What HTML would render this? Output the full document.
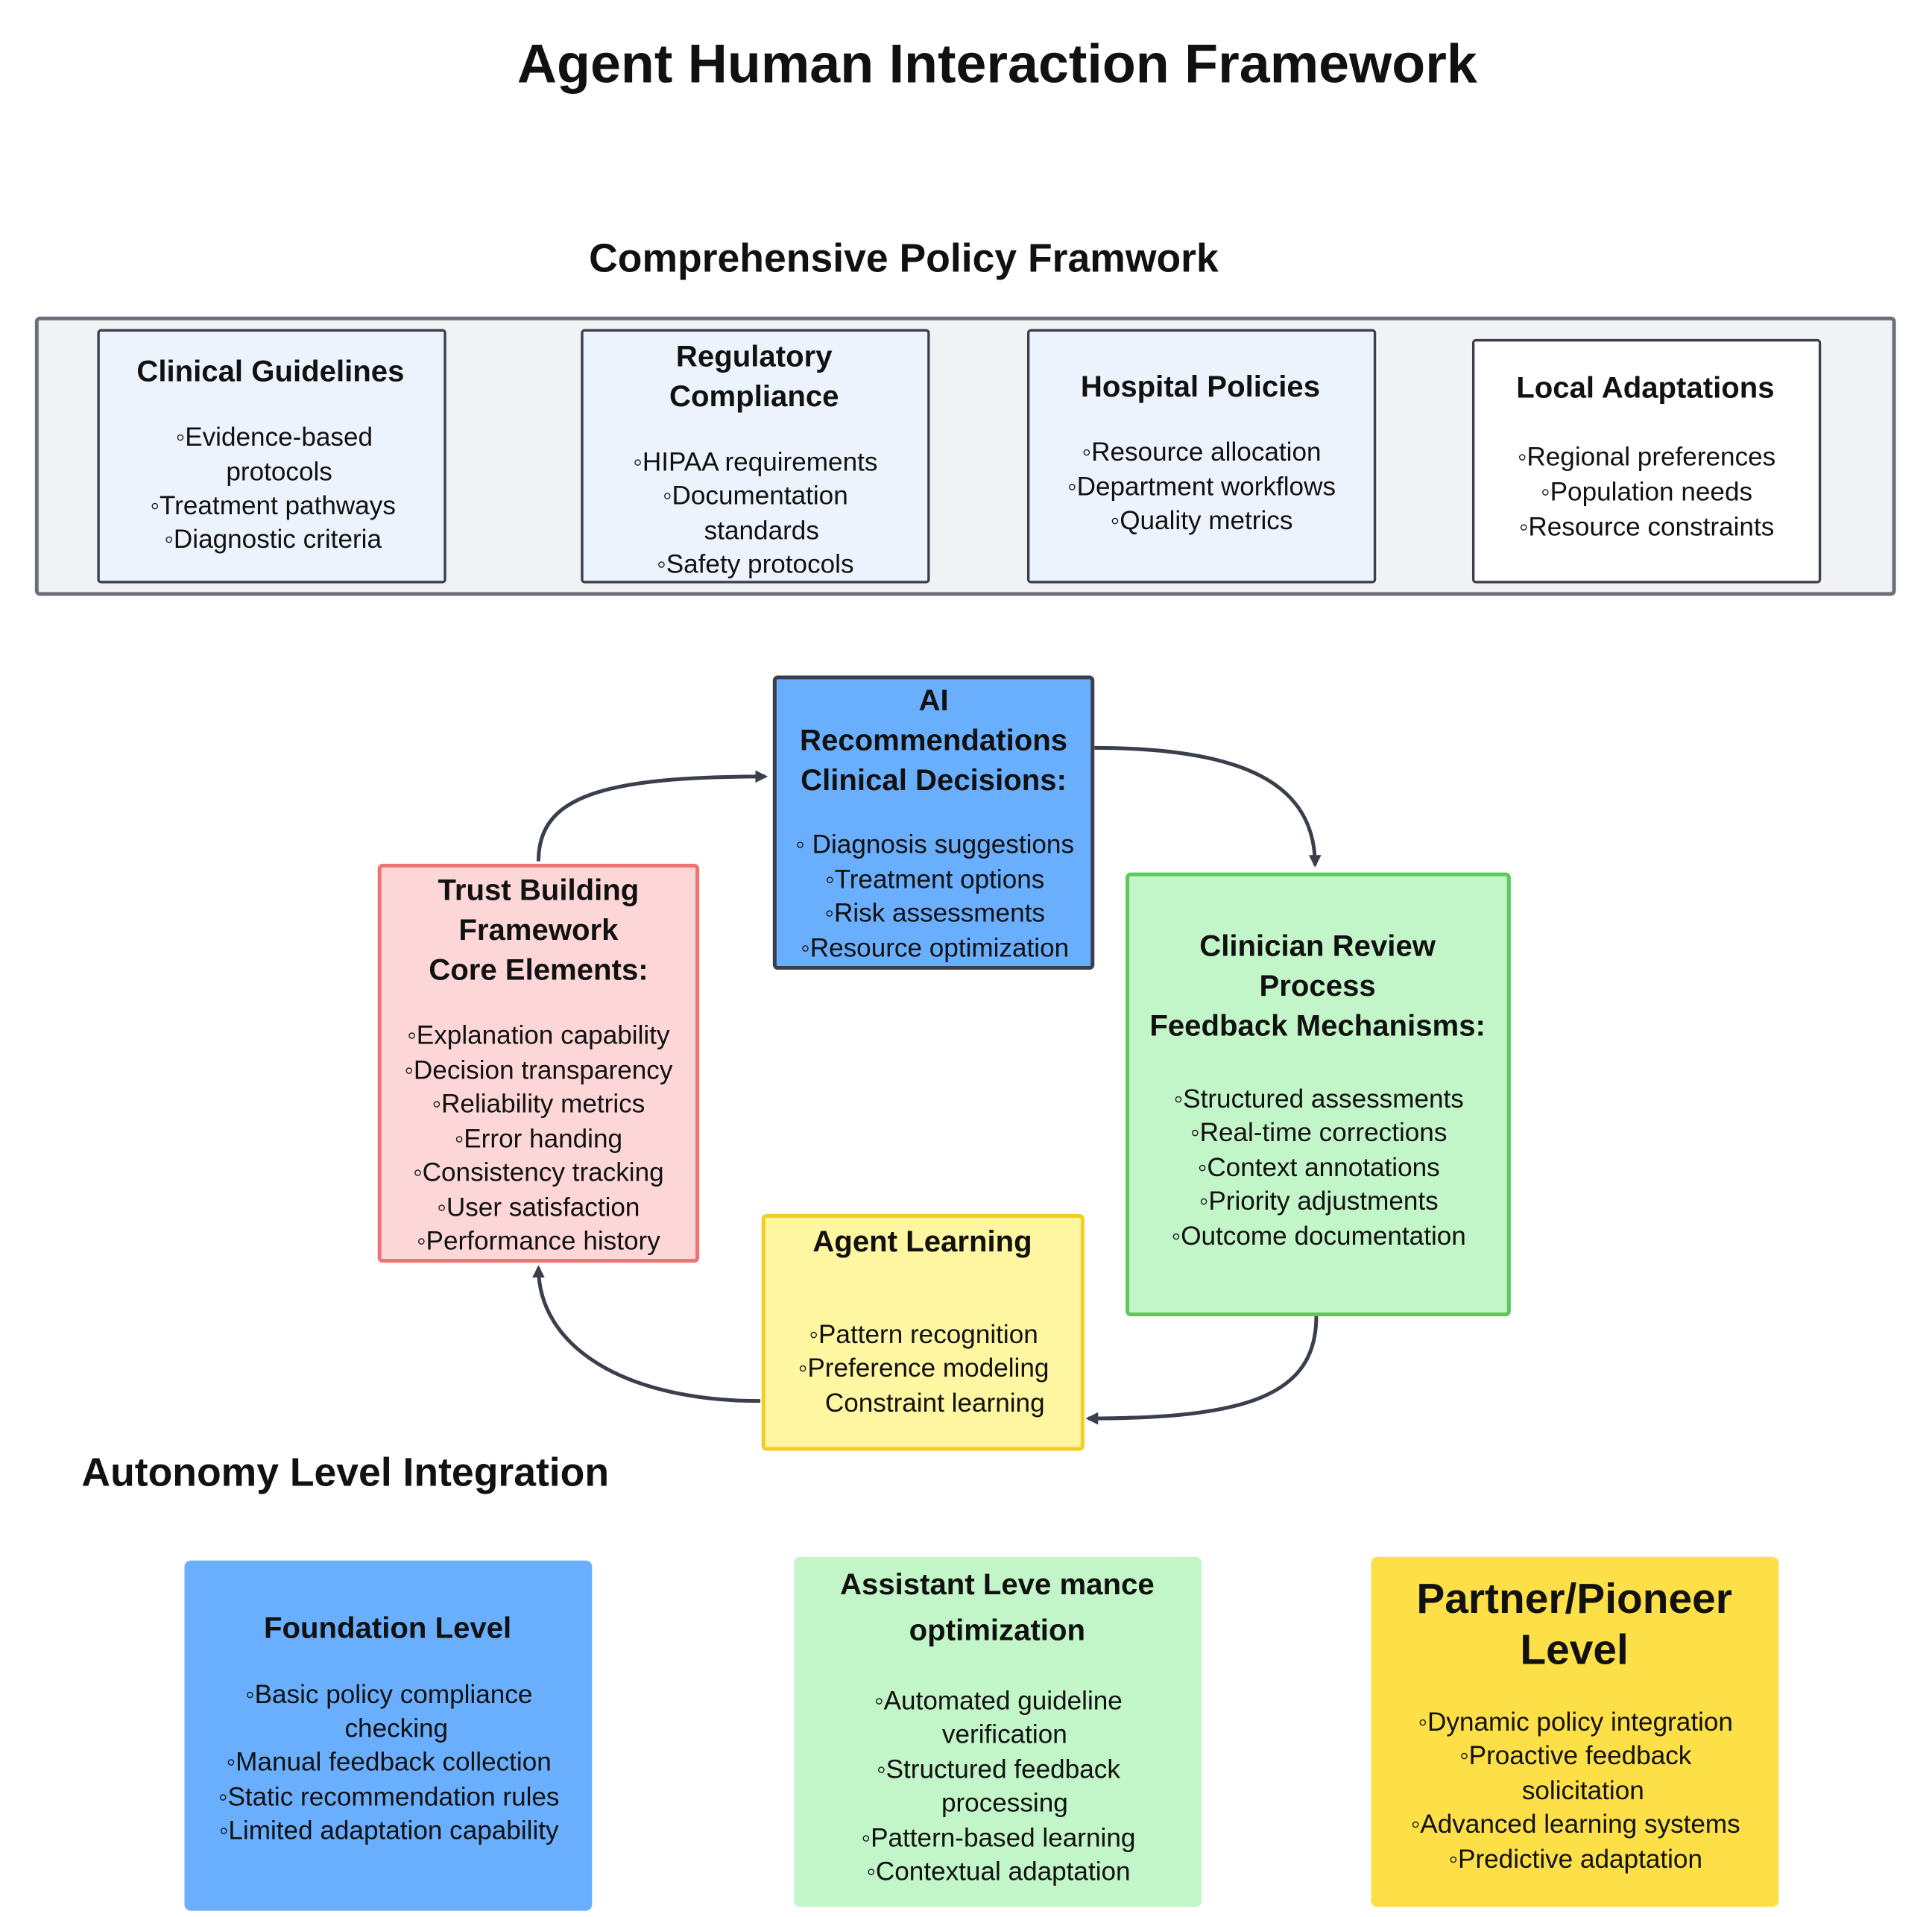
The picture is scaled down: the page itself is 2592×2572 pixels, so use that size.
<!DOCTYPE html>
<html><head><meta charset="utf-8"><style>
html,body{margin:0;padding:0;background:#fff;}
body{width:2592px;height:2571px;overflow:hidden;position:relative;}
#w{position:absolute;left:0;top:0;width:1550px;height:1538px;transform:scale(1.6723);transform-origin:0 0;font-family:"Liberation Sans",sans-serif;color:#111;}
.b{position:absolute;box-sizing:border-box;}
.t{position:absolute;white-space:nowrap;transform:translate(-50%,-50%);font-size:21px;line-height:1;}
.h{font-weight:bold;font-size:24px;}
</style></head><body><div id="w">
<div class="t" style="left:800px;top:52px;font-size:44px;font-weight:bold">Agent Human Interaction Framework</div>
<div class="t" style="left:725px;top:207px;font-size:32px;font-weight:bold">Comprehensive Policy Framwork</div>
<div class="b" style="left:28px;top:254px;width:1493px;height:224px;background:#f1f2f4;border:3px solid #6b6f7a;border-radius:4px"></div>
<div class="b" style="left:78px;top:264px;width:280px;height:204px;background:#edf3fd;border:2.5px solid #3a3f4b;border-radius:3px"></div>
<div class="b" style="left:466px;top:264px;width:280px;height:204px;background:#edf3fd;border:2.5px solid #3a3f4b;border-radius:3px"></div>
<div class="b" style="left:824px;top:264px;width:280px;height:204px;background:#edf3fd;border:2.5px solid #3a3f4b;border-radius:3px"></div>
<div class="b" style="left:1181px;top:272px;width:280px;height:196px;background:#fff;border:2.5px solid #3a3f4b;border-radius:3px"></div>
<div class="t h" style="left:217px;top:299px">Clinical Guidelines</div>
<div class="t" style="left:220px;top:351px">◦Evidence-based</div>
<div class="t" style="left:224px;top:379px">protocols</div>
<div class="t" style="left:219px;top:406px">◦Treatment pathways</div>
<div class="t" style="left:219px;top:433px">◦Diagnostic criteria</div>
<div class="t h" style="left:605px;top:287px">Regulatory</div>
<div class="t h" style="left:605px;top:319px">Compliance</div>
<div class="t" style="left:606px;top:371px">◦HIPAA requirements</div>
<div class="t" style="left:606px;top:398px">◦Documentation</div>
<div class="t" style="left:611px;top:426px">standards</div>
<div class="t" style="left:606px;top:453px">◦Safety protocols</div>
<div class="t h" style="left:963px;top:311px">Hospital Policies</div>
<div class="t" style="left:964px;top:363px">◦Resource allocation</div>
<div class="t" style="left:964px;top:391px">◦Department workflows</div>
<div class="t" style="left:964px;top:418px">◦Quality metrics</div>
<div class="t h" style="left:1320px;top:312px">Local Adaptations</div>
<div class="t" style="left:1321px;top:367px">◦Regional preferences</div>
<div class="t" style="left:1321px;top:395px">◦Population needs</div>
<div class="t" style="left:1321px;top:423px">◦Resource constraints</div>

<svg class="b" style="left:0;top:0" width="1550" height="1538">
<defs><marker id="a" markerWidth="10" markerHeight="10" refX="8" refY="5" orient="auto" markerUnits="userSpaceOnUse"><path d="M0,0 L10,5 L0,10 z" fill="#3a3f4b"/></marker></defs>
<g fill="none" stroke="#3a3f4b" stroke-width="3">
<path d="M432,691 C432,640 480,623 614,623" marker-end="url(#a)"/>
<path d="M878,600 C1000,600 1055,630 1055,694" marker-end="url(#a)"/>
<path d="M1056,1056 C1056,1120 1000,1138 873,1138" marker-end="url(#a)"/>
<path d="M610,1124 C500,1124 432,1080 432,1017" marker-end="url(#a)"/>
</g></svg>

<div class="b" style="left:620px;top:542px;width:258px;height:236px;background:#6aaefe;border:3px solid #3a3f4b;border-radius:4px"></div>
<div class="t h" style="left:749px;top:563px">AI</div>
<div class="t h" style="left:749px;top:595px">Recommendations</div>
<div class="t h" style="left:749px;top:627px">Clinical Decisions:</div>
<div class="t" style="left:750px;top:678px">◦ Diagnosis suggestions</div>
<div class="t" style="left:750px;top:706px">◦Treatment options</div>
<div class="t" style="left:750px;top:733px">◦Risk assessments</div>
<div class="t" style="left:750px;top:761px">◦Resource optimization</div>

<div class="b" style="left:303px;top:693px;width:258px;height:320px;background:#fdd7d8;border:3px solid #f07272;border-radius:4px"></div>
<div class="t h" style="left:432px;top:715px">Trust Building</div>
<div class="t h" style="left:432px;top:747px">Framework</div>
<div class="t h" style="left:432px;top:779px">Core Elements:</div>
<div class="t" style="left:432px;top:831px">◦Explanation capability</div>
<div class="t" style="left:432px;top:859px">◦Decision transparency</div>
<div class="t" style="left:432px;top:886px">◦Reliability metrics</div>
<div class="t" style="left:432px;top:914px">◦Error handing</div>
<div class="t" style="left:432px;top:941px">◦Consistency tracking</div>
<div class="t" style="left:432px;top:969px">◦User satisfaction</div>
<div class="t" style="left:432px;top:996px">◦Performance history</div>

<div class="b" style="left:903px;top:700px;width:309px;height:356px;background:#c2f5c7;border:3px solid #5cc95c;border-radius:4px"></div>
<div class="t h" style="left:1057px;top:760px">Clinician Review</div>
<div class="t h" style="left:1057px;top:792px">Process</div>
<div class="t h" style="left:1057px;top:824px">Feedback Mechanisms:</div>
<div class="t" style="left:1058px;top:882px">◦Structured assessments</div>
<div class="t" style="left:1058px;top:909px">◦Real-time corrections</div>
<div class="t" style="left:1058px;top:937px">◦Context annotations</div>
<div class="t" style="left:1058px;top:964px">◦Priority adjustments</div>
<div class="t" style="left:1058px;top:992px">◦Outcome documentation</div>

<div class="b" style="left:611px;top:974px;width:259px;height:190px;background:#fef6a0;border:3px solid #f5cc24;border-radius:4px"></div>
<div class="t h" style="left:740px;top:997px">Agent Learning</div>
<div class="t" style="left:741px;top:1071px">◦Pattern recognition</div>
<div class="t" style="left:741px;top:1098px">◦Preference modeling</div>
<div class="t" style="left:750px;top:1126px">Constraint learning</div>

<div class="t" style="left:277px;top:1181px;font-size:32px;font-weight:bold">Autonomy Level Integration</div>

<div class="b" style="left:148px;top:1252px;width:327px;height:281px;background:#6aaefe;border-radius:5px"></div>
<div class="t h" style="left:311px;top:1307px">Foundation Level</div>
<div class="t" style="left:312px;top:1360px">◦Basic policy compliance</div>
<div class="t" style="left:318px;top:1387px">checking</div>
<div class="t" style="left:312px;top:1414px">◦Manual feedback collection</div>
<div class="t" style="left:312px;top:1442px">◦Static recommendation rules</div>
<div class="t" style="left:312px;top:1469px">◦Limited adaptation capability</div>

<div class="b" style="left:637px;top:1249px;width:327px;height:281px;background:#c2f5c7;border-radius:5px"></div>
<div class="t h" style="left:800px;top:1272px">Assistant Leve mance</div>
<div class="t h" style="left:800px;top:1309px">optimization</div>
<div class="t" style="left:801px;top:1365px">◦Automated guideline</div>
<div class="t" style="left:806px;top:1392px">verification</div>
<div class="t" style="left:801px;top:1420px">◦Structured feedback</div>
<div class="t" style="left:806px;top:1447px">processing</div>
<div class="t" style="left:801px;top:1475px">◦Pattern-based learning</div>
<div class="t" style="left:801px;top:1502px">◦Contextual adaptation</div>

<div class="b" style="left:1100px;top:1249px;width:327px;height:281px;background:#fde047;border-radius:5px"></div>
<div class="t" style="left:1263px;top:1283px;font-size:34px;font-weight:bold">Partner/Pioneer</div>
<div class="t" style="left:1263px;top:1324px;font-size:34px;font-weight:bold">Level</div>
<div class="t" style="left:1264px;top:1382px">◦Dynamic policy integration</div>
<div class="t" style="left:1264px;top:1409px">◦Proactive feedback</div>
<div class="t" style="left:1270px;top:1437px">solicitation</div>
<div class="t" style="left:1264px;top:1464px">◦Advanced learning systems</div>
<div class="t" style="left:1264px;top:1492px">◦Predictive adaptation</div>
</div></body></html>
